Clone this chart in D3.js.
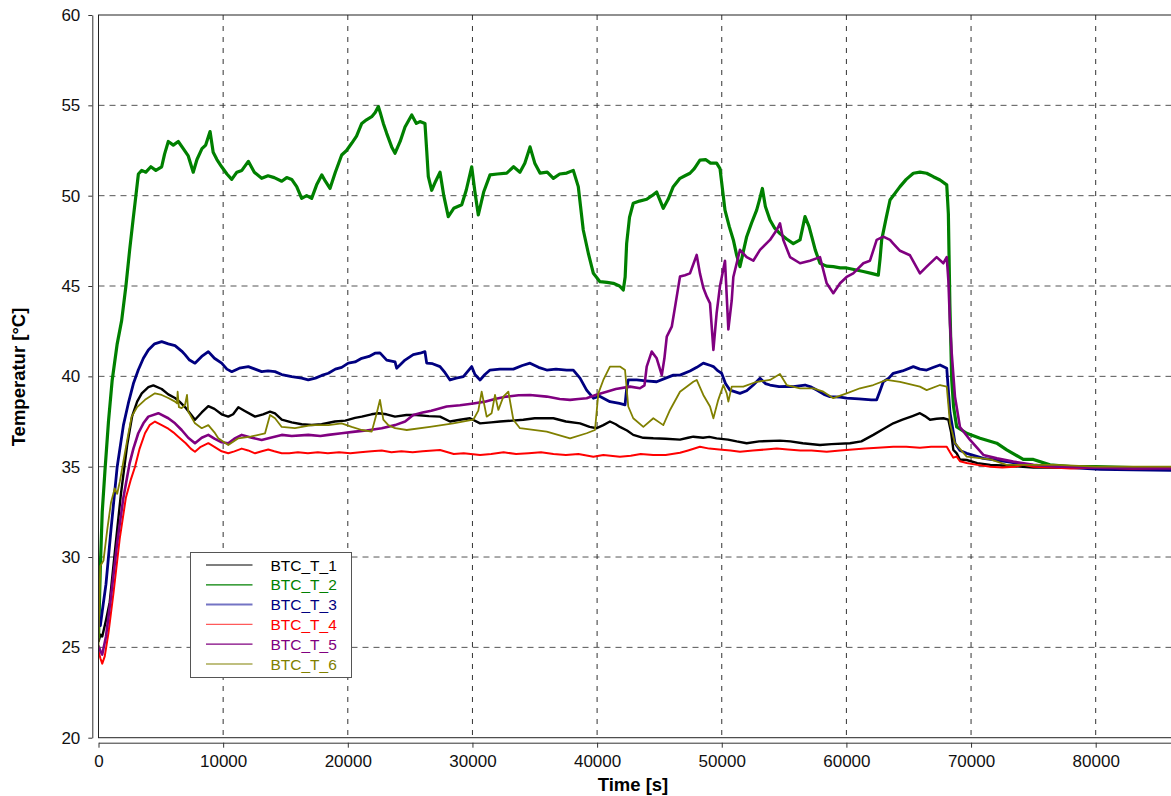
<!DOCTYPE html>
<html>
<head>
<meta charset="utf-8">
<script src="https://cdn.jsdelivr.net/npm/d3@7/dist/d3.min.js"></script>
<style>
  html, body { margin: 0; padding: 0; background: #fff; }
  svg { display: block; font-family: "Liberation Sans", Arial, sans-serif; }
</style>
</head>
<body>
<svg id="chart" width="1171" height="796"></svg>
<script>
// Temperature readings [time in s, °C] for the six BTC sensors
const btcT1 = [[0,25.3],[150,25.7],[300,25.6],[600,26.5],[900,27.5],[1300,30.2],[1800,33.5],[2300,36.2],[2700,37.8],[3100,38.6],[3470,39.06],[4000,39.4],[4400,39.5],[5070,39.3],[5600,39.0],[6140,38.8],[6500,38.6],[6940,38.3],[7400,37.9],[7740,37.6],[8280,38.0],[8810,38.35],[9300,38.2],[9880,37.9],[10410,37.77],[10800,37.9],[11220,38.29],[11700,38.1],[12560,37.77],[13200,37.9],[13760,38.05],[14160,37.95],[14700,37.6],[15500,37.45],[16300,37.35],[17100,37.31],[17900,37.35],[18970,37.5],[19800,37.55],[20580,37.7],[21120,37.77],[21900,37.9],[22450,37.96],[23100,37.9],[23790,37.77],[24700,37.86],[25500,37.86],[26500,37.8],[27400,37.77],[28200,37.5],[29000,37.6],[29800,37.68],[30610,37.4],[31500,37.45],[32210,37.5],[33200,37.55],[34080,37.6],[35000,37.68],[36490,37.68],[37500,37.5],[38630,37.4],[39400,37.2],[39970,37.13],[40500,37.3],[41030,37.5],[41500,37.35],[41830,37.2],[42400,37.0],[42900,36.76],[43700,36.6],[44510,36.57],[45500,36.55],[46650,36.5],[47300,36.6],[47720,36.66],[48500,36.6],[49000,36.65],[49590,36.57],[50500,36.5],[51200,36.4],[52000,36.3],[53000,36.4],[54670,36.44],[55500,36.4],[56500,36.3],[57880,36.2],[58800,36.25],[60290,36.3],[61200,36.4],[62160,36.76],[63000,37.1],[63760,37.4],[64500,37.6],[65300,37.8],[65900,37.96],[66300,37.8],[66710,37.6],[67240,37.65],[67780,37.68],[68180,37.6],[68400,36.9],[68580,35.93],[68850,35.74],[69110,35.4],[69650,35.37],[70500,35.2],[71550,35.1],[73000,35.05],[75000,34.95],[78000,34.95],[82000,34.9],[86400,34.85]];

const btcT2 = [[0,25.5],[150,29.5],[300,32.5],[520,34.8],[800,37.5],[1100,39.8],[1500,41.8],[1860,43.1],[2200,45],[2500,47],[2770,48.65],[3000,50],[3200,51.2],[3470,51.4],[3800,51.3],[4200,51.6],[4600,51.4],[5070,51.6],[5300,52.3],[5600,53.0],[6000,52.8],[6400,53.0],[6800,52.6],[7200,52.2],[7600,51.3],[7900,52],[8300,52.6],[8600,52.8],[8950,53.55],[9200,52.4],[9500,52.0],[9880,51.6],[10300,51.2],[10690,50.9],[11100,51.3],[11500,51.4],[12020,51.9],[12500,51.3],[13090,50.96],[13600,51.1],[14100,51.0],[14700,50.8],[15100,51.0],[15500,50.9],[15900,50.5],[16300,49.85],[16700,50.0],[17100,49.85],[17500,50.6],[17910,51.15],[18200,50.8],[18570,50.4],[19000,51.3],[19510,52.25],[19900,52.5],[20310,52.9],[20700,53.3],[21120,54.0],[21500,54.2],[21920,54.37],[22200,54.6],[22450,54.93],[22600,54.6],[22850,54.0],[23120,53.45],[23520,52.7],[23790,52.35],[24200,53.0],[24590,53.8],[25130,54.47],[25500,54.0],[25790,54.1],[26190,54.0],[26330,52.5],[26460,51.05],[26730,50.3],[27050,50.8],[27400,51.3],[27700,50.0],[28060,48.84],[28500,49.3],[29140,49.5],[29500,50.3],[29940,51.6],[30200,50.2],[30470,48.93],[30900,50.2],[31410,51.15],[32000,51.2],[32750,51.25],[33300,51.6],[33810,51.3],[34200,51.8],[34620,52.7],[35000,51.8],[35420,51.25],[36000,51.3],[36490,50.96],[37000,51.2],[37560,51.25],[38090,51.4],[38490,50.5],[38890,48.1],[39300,46.8],[39700,45.7],[40230,45.24],[40800,45.2],[41300,45.15],[41800,45.0],[42100,44.78],[42250,45.5],[42370,47.35],[42600,48.8],[42900,49.58],[43400,49.7],[43980,49.8],[44400,50.0],[44780,50.2],[45310,49.3],[45700,49.8],[46110,50.5],[46650,50.96],[47050,51.1],[47450,51.24],[47800,51.5],[48250,51.97],[48700,52.0],[49100,51.8],[49590,51.8],[49860,51.5],[50260,49.2],[50600,48.3],[50930,47.55],[51200,46.7],[51460,46.07],[51730,46.9],[52000,47.73],[52400,48.5],[52800,49.2],[53000,49.7],[53260,50.4],[53500,49.4],[53870,48.65],[54250,48.2],[54670,47.9],[55200,47.6],[55740,47.35],[56280,47.55],[56680,48.84],[57000,48.3],[57220,47.73],[57500,47.0],[57880,46.26],[58400,46.1],[58950,46.07],[59500,46.0],[60020,46.0],[60700,45.9],[61360,45.8],[62000,45.7],[62560,45.6],[62700,46.5],[62830,47.55],[63200,48.8],[63500,49.76],[64300,50.5],[64800,50.9],[65370,51.24],[65900,51.3],[66440,51.24],[66970,51.05],[67510,50.87],[68050,50.6],[68180,49.0],[68300,44],[68450,39.8],[68600,38.3],[68850,37.2],[69650,36.85],[70720,36.57],[72060,36.3],[72860,35.93],[74190,35.41],[75000,35.4],[76330,35.1],[78000,35.0],[80000,35.0],[83000,34.95],[86400,34.95]];

const btcT3 = [[0,26.5],[150,26.2],[300,27],[600,28.5],[1000,31.5],[1500,35],[2000,37.3],[2390,38.5],[2800,39.6],[3190,40.35],[3600,41],[4000,41.46],[4500,41.8],[5070,41.92],[5600,41.8],[6140,41.7],[6670,41.4],[6940,41.2],[7300,40.9],[7740,40.73],[8280,41.1],[8810,41.37],[9300,41.0],[9880,40.73],[10300,40.4],[10690,40.26],[11300,40.45],[12020,40.54],[12560,40.4],[13090,40.26],[13600,40.3],[14160,40.26],[14700,40.1],[15500,39.98],[16300,39.9],[16830,39.8],[17400,39.9],[17910,40.05],[18440,40.17],[19000,40.4],[19510,40.5],[20040,40.73],[20580,40.8],[21120,41.0],[21700,41.1],[22180,41.28],[22580,41.3],[23120,40.9],[23790,40.8],[23920,40.45],[24590,40.9],[25250,41.2],[25790,41.28],[26190,41.37],[26330,40.73],[26800,40.7],[27400,40.54],[27800,40.2],[28200,39.8],[28700,39.9],[29270,39.98],[29940,40.54],[30200,40.1],[30610,39.8],[31000,40.1],[31410,40.35],[32200,40.4],[33280,40.4],[34000,40.6],[34620,40.73],[35300,40.5],[35960,40.35],[36700,40.4],[37560,40.35],[38090,40.35],[38630,39.9],[39160,39.24],[39700,38.79],[40200,38.9],[41030,38.6],[41800,38.5],[42240,38.42],[42370,39.3],[42500,39.8],[43180,39.8],[43900,39.75],[44780,39.7],[45500,39.9],[46120,40.07],[46650,40.07],[47450,40.3],[48000,40.5],[48520,40.73],[49100,40.6],[49330,40.54],[49700,40.3],[49990,40.17],[50300,39.6],[50660,39.24],[51460,39.06],[52000,39.2],[52530,39.52],[53070,39.9],[53500,39.6],[53870,39.52],[54600,39.43],[55200,39.45],[55740,39.43],[56680,39.52],[57200,39.4],[57620,39.24],[58200,39.0],[58680,38.88],[59500,38.85],[60020,38.79],[61000,38.75],[62000,38.7],[62430,38.7],[62700,39.2],[62960,39.7],[63400,39.9],[63760,40.17],[64500,40.3],[65370,40.54],[65900,40.4],[66440,40.35],[67000,40.5],[67510,40.63],[68050,40.45],[68310,38.0],[68580,36.9],[68710,36.3],[69110,35.9],[69650,35.74],[70990,35.46],[72860,35.28],[74500,35.1],[76330,35.0],[78000,34.95],[80350,34.85],[83000,34.82],[86400,34.8]];

const btcT4 = [[0,24.8],[150,24.4],[300,24.1],[500,24.5],[800,25.8],[1200,28],[1700,31],[2200,33.3],[2600,34.3],[2930,35.0],[3300,36.0],[3730,36.85],[4100,37.3],[4530,37.5],[5070,37.3],[5600,37.1],[6000,36.9],[6400,36.66],[7000,36.3],[7400,36.0],[7740,35.83],[8200,36.1],[8810,36.3],[9300,36.1],[9880,35.85],[10410,35.74],[10900,35.85],[11490,36.0],[12000,35.9],[12560,35.74],[13100,35.85],[13620,35.95],[14100,35.85],[14700,35.74],[15300,35.75],[16000,35.8],[16800,35.74],[17600,35.8],[18400,35.75],[19300,35.8],[20200,35.74],[21000,35.8],[21900,35.85],[22720,35.9],[23500,35.8],[24300,35.85],[25200,35.8],[26000,35.85],[27400,35.92],[28500,35.7],[29300,35.75],[30610,35.65],[31500,35.7],[32500,35.8],[33500,35.7],[34500,35.75],[35500,35.8],[36500,35.7],[37500,35.65],[38500,35.7],[39700,35.55],[40500,35.65],[41830,35.55],[42700,35.6],[43500,35.7],[44500,35.65],[45500,35.65],[46650,35.77],[47300,35.9],[48250,36.1],[49000,36.0],[49800,35.95],[50700,35.9],[51460,35.83],[52500,35.9],[53500,35.95],[54410,36.0],[55300,35.95],[56300,35.9],[57200,35.9],[58420,35.83],[59500,35.9],[60500,35.95],[61500,36.0],[62500,36.05],[63760,36.1],[64800,36.1],[65900,36.05],[66800,36.1],[67500,36.1],[68050,36.1],[68310,35.8],[68580,35.5],[68850,35.56],[69110,35.3],[69650,35.2],[70500,35.1],[71550,35.0],[72500,34.95],[73500,35.0],[74200,35.1],[75000,35.0],[76500,34.95],[78000,34.9],[80000,34.95],[83000,34.9],[86400,34.95]];

const btcT5 = [[0,25.1],[150,24.8],[300,24.6],[600,25.6],[1000,27.8],[1500,30.8],[2000,33.3],[2500,35.2],[2800,36.0],[3190,36.85],[3600,37.4],[4000,37.77],[4800,37.96],[5600,37.68],[6140,37.4],[6670,37.03],[7200,36.6],[7740,36.3],[8280,36.6],[8810,36.76],[9300,36.55],[9880,36.35],[10410,36.3],[10900,36.55],[11490,36.76],[12300,36.6],[13090,36.48],[13800,36.6],[14700,36.76],[15500,36.7],[16830,36.76],[17800,36.7],[18440,36.76],[19500,36.85],[20580,36.94],[21500,37.0],[22720,37.13],[23790,37.3],[24600,37.5],[25250,37.86],[26000,38.0],[26700,38.1],[27930,38.33],[29000,38.4],[30070,38.5],[31000,38.6],[31800,38.75],[32750,38.88],[33700,38.95],[34620,38.97],[35960,38.88],[37000,38.75],[37830,38.7],[38500,38.75],[39160,38.79],[40000,39.0],[40770,39.15],[41500,39.3],[42640,39.43],[43440,39.34],[43800,39.5],[43980,40.54],[44380,41.37],[44780,41.0],[45190,40.07],[45400,41.0],[45590,42.2],[45990,42.75],[46300,44.04],[46650,45.52],[47050,45.6],[47450,45.7],[47990,46.72],[48250,45.7],[48520,44.9],[48800,44.41],[49060,44.04],[49330,41.46],[49590,43.5],[49860,45.0],[50260,46.4],[50530,42.6],[50800,44.2],[50930,45.5],[51460,47.0],[52000,46.6],[52530,46.4],[53070,47.0],[53870,47.55],[54410,48.1],[54670,48.47],[54940,47.55],[55480,46.6],[56280,46.26],[57080,46.4],[57880,46.6],[58420,45.15],[58950,44.6],[59490,45.15],[60020,45.5],[60550,45.7],[61360,46.26],[61890,46.4],[62430,47.55],[62960,47.73],[63500,47.55],[63760,47.35],[64300,46.95],[65100,46.7],[65900,45.7],[66440,46.07],[67240,46.6],[67780,46.26],[68050,46.6],[68180,45.33],[68310,42.9],[68450,41.28],[68710,38.88],[69110,37.2],[69920,36.48],[70990,35.65],[72080,35.46],[73390,35.28],[75000,35.1],[77000,35.0],[80000,34.95],[83000,34.9],[86400,34.9]];

const btcT6 = [[0,25],[60,27.5],[150,29.5],[400,29.8],[700,31.5],[1000,33],[1300,33.8],[1500,33.5],[1720,34.2],[2000,35.3],[2390,36.8],[2660,37.77],[3100,38.3],[3730,38.7],[4530,39.06],[5070,38.97],[5600,38.8],[6140,38.6],[6300,38.5],[6350,39.15],[6450,38.3],[6670,38.24],[6940,38.42],[7100,38.97],[7200,38.05],[7740,37.4],[8280,37.13],[8810,37.3],[9300,36.9],[9610,36.57],[10410,36.2],[11220,36.57],[12200,36.66],[13360,36.85],[13760,37.86],[14160,37.68],[14700,37.2],[15760,37.13],[17100,37.3],[18440,37.3],[19510,37.4],[20310,37.2],[21120,37.03],[21920,36.94],[22320,37.96],[22580,38.7],[22850,37.6],[23250,37.3],[23790,37.13],[24730,37.03],[26590,37.2],[28460,37.4],[30070,37.6],[30470,38.1],[30740,39.15],[31140,37.77],[31540,37.96],[31810,38.97],[32080,38.14],[32480,38.88],[32880,39.15],[33280,37.6],[33810,37.13],[35960,36.94],[37830,36.57],[39160,36.85],[39830,37.03],[40100,39.06],[40500,39.8],[41030,40.54],[41830,40.54],[42240,40.35],[42500,38.33],[42900,37.68],[43710,37.2],[44510,37.68],[45310,37.3],[45850,38.14],[46650,39.15],[47720,39.7],[47990,39.8],[48520,38.97],[49060,38.33],[49330,37.68],[49720,38.7],[50130,39.52],[50400,39.06],[50530,38.6],[50800,39.43],[51730,39.43],[52800,39.7],[53870,39.8],[54670,40.13],[55210,39.52],[56280,39.34],[57350,39.34],[58150,39.15],[58950,38.79],[60020,39.06],[61090,39.34],[62160,39.52],[63230,39.8],[64300,39.7],[65900,39.43],[66440,39.24],[67510,39.52],[68050,39.43],[68310,37.4],[68710,36.3],[69650,35.56],[71550,35.4],[72860,35.1],[76870,35.1],[80000,35.0],[86400,35.0]];

const seriesNames  = ["BTC_T_1", "BTC_T_2", "BTC_T_3", "BTC_T_4", "BTC_T_5", "BTC_T_6"];
const seriesData   = [btcT1, btcT2, btcT3, btcT4, btcT5, btcT6];
const seriesColors = ["#000000", "#008000", "#000080", "#ff0000", "#800080", "#808000"];
const seriesWidths = [2.4, 3.2, 2.8, 2.0, 2.6, 1.8];
const legendLineColors = ["#000000", "#008000", "#7474c4", "#ff5a5a", "#800080", "#808000"];

const xTicks = [0, 10000, 20000, 30000, 40000, 50000, 60000, 70000, 80000];
const yTicks = [20, 25, 30, 35, 40, 45, 50, 55, 60];

const svg = d3.select("#chart");
const plot = { left: 98.5, top: 15, bottom: 737.7, right: 1176 };

const x = d3.scaleLinear().domain([0, 86400]).range([plot.left, plot.left + 86400 * 0.012465]);
const y = d3.scaleLinear().domain([20, 60]).range([plot.bottom, plot.top]);

svg.append("defs").append("clipPath").attr("id", "plotClip")
  .append("rect")
  .attr("x", plot.left).attr("y", plot.top)
  .attr("width", plot.right - plot.left).attr("height", plot.bottom - plot.top);

// dashed grid
const grid = svg.append("g");
grid.selectAll("line.h").data(yTicks.filter(v => v > 20 && v < 60)).join("line")
  .attr("x1", plot.left).attr("x2", plot.right)
  .attr("y1", d => y(d)).attr("y2", d => y(d))
  .attr("stroke", "#555").attr("stroke-width", 1).attr("stroke-dasharray", "6,5");
grid.selectAll("line.v").data(xTicks.filter(v => v > 0)).join("line")
  .attr("x1", d => x(d)).attr("x2", d => x(d))
  .attr("y1", plot.top).attr("y2", plot.bottom)
  .attr("stroke", "#333").attr("stroke-width", 1).attr("stroke-dasharray", "5,6");

// series
const line = d3.line().x(d => x(d[0])).y(d => y(d[1]));
const lines = svg.append("g").attr("clip-path", "url(#plotClip)");
seriesData.forEach((data, i) => {
  lines.append("path")
    .datum(data)
    .attr("fill", "none")
    .attr("stroke", seriesColors[i])
    .attr("stroke-width", seriesWidths[i])
    .attr("stroke-linejoin", "round")
    .attr("d", line);
});

// plot frame
svg.append("rect")
  .attr("x", plot.left).attr("y", plot.top)
  .attr("width", plot.right - plot.left).attr("height", plot.bottom - plot.top)
  .attr("fill", "none").attr("stroke", "#222").attr("stroke-width", 1);

// axes, offset from the frame
const yAxis = d3.axisLeft(y).tickValues(yTicks).tickSize(4).tickSizeOuter(0).tickPadding(8).tickFormat(d3.format("d"));
const gy = svg.append("g").attr("transform", "translate(92.3,0)").call(yAxis);
const xAxis = d3.axisBottom(x).tickValues(xTicks).tickSize(5).tickSizeOuter(0).tickPadding(7).tickFormat(d3.format("d"));
const gx = svg.append("g").attr("transform", "translate(0,742.7)").call(xAxis);
[gx, gy].forEach(g => {
  g.selectAll("text").attr("font-size", 17).attr("fill", "#111").attr("font-family", "\"Liberation Sans\", Arial, sans-serif");
  g.selectAll("line, path").attr("stroke", "#333");
});

// axis titles
svg.append("text")
  .attr("transform", "translate(25,377) rotate(-90)")
  .attr("text-anchor", "middle")
  .attr("font-size", 18.5).attr("font-weight", "bold")
  .text("Temperatur [°C]");
svg.append("text")
  .attr("x", 633).attr("y", 791)
  .attr("text-anchor", "middle")
  .attr("font-size", 18.5).attr("font-weight", "bold")
  .text("Time [s]");

// legend
const legend = svg.append("g");
legend.append("rect")
  .attr("x", 190.5).attr("y", 552.5).attr("width", 161).attr("height", 125)
  .attr("fill", "#fff").attr("stroke", "#555").attr("stroke-width", 1);
seriesNames.forEach((name, i) => {
  const cy = 565 + i * 19.8;
  legend.append("line")
    .attr("x1", 206).attr("x2", 252.5).attr("y1", cy).attr("y2", cy)
    .attr("stroke", legendLineColors[i]).attr("stroke-width", i === 2 ? 2 : 1.2);
  legend.append("text")
    .attr("x", 270.5).attr("y", cy).attr("dy", "0.36em")
    .attr("font-size", 15.5).attr("fill", seriesColors[i])
    .text(name);
});
</script>
</body>
</html>
